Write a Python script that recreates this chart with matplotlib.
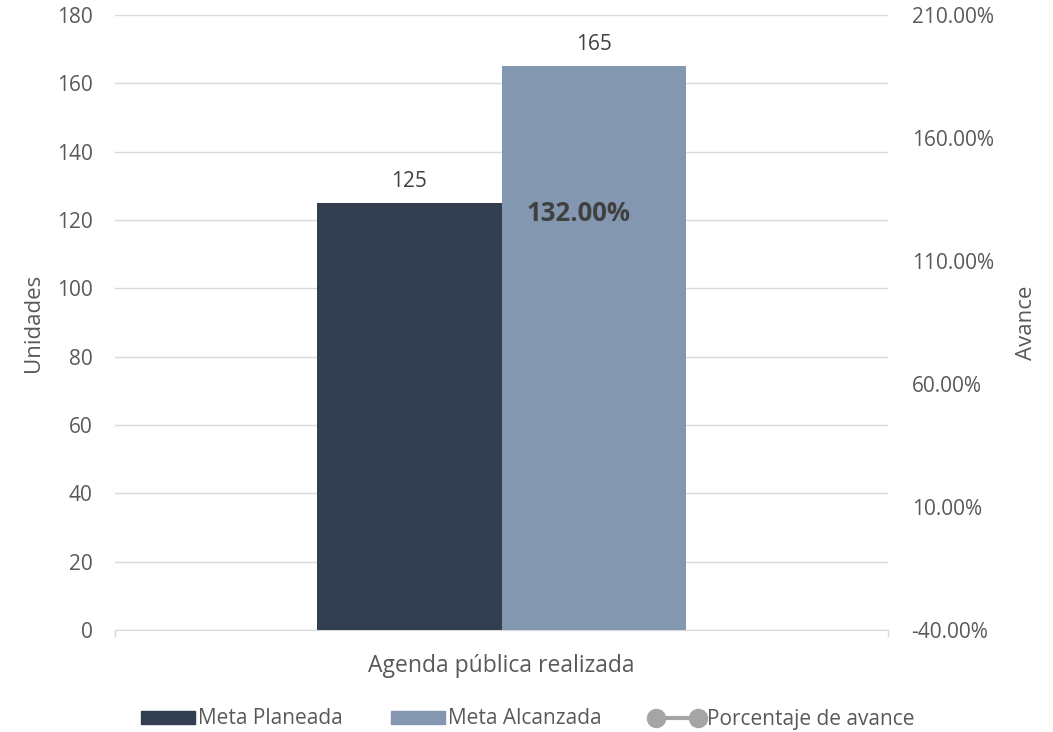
import matplotlib
matplotlib.use("Agg")
import matplotlib.pyplot as plt
from matplotlib.lines import Line2D
from matplotlib.patches import Patch

categories = ["Agenda pública realizada"]
meta_planeada = [125]
meta_alcanzada = [165]
porcentaje = [132.0]

left_ticks = [0, 20, 40, 60, 80, 100, 120, 140, 160, 180]
right_ticks = [-40, 10, 60, 110, 160, 210]

plt.rcParams['font.family'] = ['Open Sans', 'DejaVu Sans']

C_DARK = "#333F50"
C_LIGHT = "#8497B0"
C_TXT = "#595959"
C_LBL = "#404040"
C_GRID = "#D9D9D9"
FS = 15

fig = plt.figure(figsize=(10.53, 7.32), dpi=100)
ax = fig.add_axes([115/1053, 1-630/732, (888-115)/1053, (630-15)/732])
ax2 = ax.twinx()

x = list(range(len(categories)))
w = 0.239
b1 = ax.bar([i - w/2 for i in x], meta_planeada, width=w, color=C_DARK, zorder=3)
b2 = ax.bar([i + w/2 for i in x], meta_alcanzada, width=w, color=C_LIGHT, zorder=3)
for rect, v in zip(b1, meta_planeada):
    ax.annotate(f"{v}", (rect.get_x()+rect.get_width()/2, v), xytext=(0, 8),
                textcoords="offset points", ha="center", va="bottom", fontsize=FS, color=C_LBL)
for rect, v in zip(b2, meta_alcanzada):
    ax.annotate(f"{v}", (rect.get_x()+rect.get_width()/2, v), xytext=(0, 8),
                textcoords="offset points", ha="center", va="bottom", fontsize=FS, color=C_LBL)

ax.set_xlim(-0.5, len(categories)-0.5)
ax.set_ylim(0, 180)
ax.set_yticks(left_ticks)
ax.set_xticks(x)
ax.set_xticklabels(categories)
ax.set_xticks([-0.5, len(categories)-0.5], minor=True)
ax.grid(axis="y", color=C_GRID, linewidth=1, zorder=0)
ax.set_axisbelow(True)
for s in ["top", "left", "right"]:
    ax.spines[s].set_visible(False)
ax.spines["bottom"].set_color(C_GRID)
ax.tick_params(axis="y", length=0, colors=C_TXT, labelsize=FS, pad=16)
ax.tick_params(axis="x", which="major", length=0, colors=C_TXT, labelsize=16.5, pad=17)
ax.tick_params(axis="x", which="minor", length=5, color=C_GRID, width=1)
ax.set_ylabel("Unidades", fontsize=16, color=C_TXT, labelpad=9)

ax2.plot(x, porcentaje, color="#A5A5A5", linewidth=0, marker=None)
ax2.set_ylim(-40, 210)
ax2.set_yticks(right_ticks)
ax2.set_yticklabels([f"{t:.2f}%" for t in right_ticks])
for s in ["top", "left", "right", "bottom"]:
    ax2.spines[s].set_visible(False)
ax2.tick_params(axis="y", length=0, colors=C_TXT, labelsize=FS, pad=17)
ax2.set_ylabel("Avance", fontsize=16, color=C_TXT, labelpad=16)
for xi, p in zip(x, porcentaje):
    ax2.annotate(f"{p:.2f}%", (xi, p), xytext=(18, -5), textcoords="offset points",
                 ha="left", va="center", fontsize=18.5, fontweight="bold", color=C_LBL)

handles = [Patch(color=C_DARK, label="Meta Planeada"),
           Patch(color=C_LIGHT, label="Meta Alcanzada"),
           Line2D([0], [0], color="#A5A5A5", linewidth=3, marker="o", markersize=13,
                  label="Porcentaje de avance")]
fig.legend(handles=handles, loc="center", bbox_to_anchor=(528/1053, 1-719/732), ncol=3,
           frameon=False, fontsize=FS, labelcolor=C_TXT, handlelength=2.6, numpoints=2,
           handletextpad=0.15, columnspacing=2.3, handleheight=0.6)

fig.savefig("out.png", dpi=100)
